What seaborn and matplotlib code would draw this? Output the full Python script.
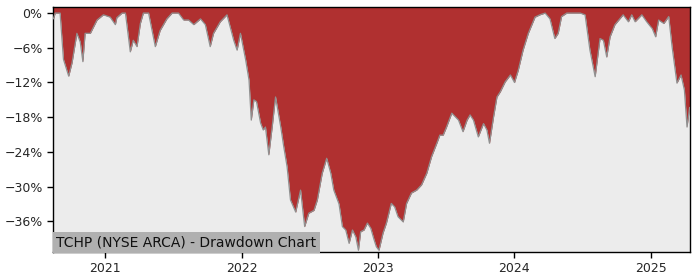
import matplotlib
matplotlib.use("Agg")
import matplotlib.pyplot as plt
import matplotlib.dates as mdates
from matplotlib.ticker import FuncFormatter
import seaborn as sns
import pandas as pd

dates = [
    "2020-08-15", "2020-08-20", "2020-09-02", "2020-09-11", "2020-09-25", "2020-10-04",
    "2020-10-17", "2020-10-26", "2020-11-02", "2020-11-08", "2020-11-22", "2020-12-10",
    "2020-12-27", "2021-01-14", "2021-01-28", "2021-02-01", "2021-02-15", "2021-02-24",
    "2021-03-09", "2021-03-17", "2021-03-27", "2021-04-05", "2021-04-13", "2021-04-27",
    "2021-05-15", "2021-05-28", "2021-06-15", "2021-06-29", "2021-07-16", "2021-07-30",
    "2021-08-12", "2021-08-26", "2021-09-13", "2021-09-26", "2021-10-09", "2021-10-18",
    "2021-11-05", "2021-11-23", "2021-12-11", "2021-12-20", "2021-12-29",
    "2022-01-07", "2022-01-12", "2022-01-21", "2022-01-27", "2022-02-03", "2022-02-10",
    "2022-02-21", "2022-02-28", "2022-03-06", "2022-03-15", "2022-03-24", "2022-04-02",
    "2022-04-16", "2022-04-24", "2022-05-03", "2022-05-12", "2022-05-26", "2022-06-08",
    "2022-06-19", "2022-06-30", "2022-07-14", "2022-07-23", "2022-08-05", "2022-08-17",
    "2022-08-28", "2022-09-05", "2022-09-19", "2022-09-28", "2022-10-07", "2022-10-16",
    "2022-10-25", "2022-11-03", "2022-11-10", "2022-11-16", "2022-11-25", "2022-12-04",
    "2022-12-13", "2022-12-22", "2022-12-28", "2023-01-04", "2023-01-15", "2023-01-24",
    "2023-02-06", "2023-02-15", "2023-02-24", "2023-03-10", "2023-03-19", "2023-04-01",
    "2023-04-15", "2023-04-28", "2023-05-12", "2023-05-25", "2023-06-08", "2023-06-16",
    "2023-06-25", "2023-07-04", "2023-07-18", "2023-07-27", "2023-08-05", "2023-08-17",
    "2023-08-28", "2023-09-05", "2023-09-14", "2023-09-27", "2023-10-11", "2023-10-20",
    "2023-10-27", "2023-11-07", "2023-11-16", "2023-11-25", "2023-12-08", "2023-12-22",
    "2024-01-02", "2024-01-12", "2024-01-25", "2024-02-08", "2024-02-17",
    "2024-02-26", "2024-03-10", "2024-03-24", "2024-04-06", "2024-04-19",
    "2024-04-28", "2024-05-07", "2024-05-21", "2024-06-08", "2024-06-26", "2024-07-09",
    "2024-07-22", "2024-08-05", "2024-08-18", "2024-08-27", "2024-09-05", "2024-09-14",
    "2024-09-27", "2024-10-10", "2024-10-19", "2024-11-02", "2024-11-11", "2024-11-20",
    "2024-12-08", "2024-12-21", "2025-01-05", "2025-01-14", "2025-01-22", "2025-02-05",
    "2025-02-18", "2025-02-27", "2025-03-12", "2025-03-23", "2025-04-01", "2025-04-08",
    "2025-04-15",
]
drawdown = [
    -1.0, 0.0, 0.0, -8.0, -10.9, -8.6,
    -3.5, -5.0, -8.4, -3.5, -3.5, -1.2,
    -0.3, -0.7, -2.0, -0.8, 0.0, 0.0,
    -6.7, -4.7, -5.8, -1.8, 0.0, 0.0,
    -5.8, -3.0, -1.0, 0.0, 0.0, -1.2,
    -1.2, -2.0, -1.0, -2.0, -5.8, -3.5,
    -1.5, -0.3, -4.7, -6.4, -3.5,
    -6.5, -8.1, -11.6, -18.5, -15.0, -15.3,
    -19.0, -20.2, -19.7, -24.5, -19.7, -14.5,
    -19.7, -23.1, -26.6, -32.3, -34.4, -30.6,
    -36.9, -34.6, -34.1, -32.3, -27.7, -25.1,
    -27.7, -30.6, -33.0, -36.9, -37.5, -39.8,
    -37.5, -38.7, -41.0, -37.8, -37.5, -36.3,
    -37.2, -39.2, -40.4, -41.0, -38.0, -36.3,
    -32.9, -33.5, -35.2, -36.1, -32.9, -31.1,
    -30.6, -29.7, -27.7, -24.8, -22.5, -21.1,
    -21.1, -19.7, -17.3, -17.9, -18.5, -20.5,
    -18.5, -17.6, -18.5, -21.4, -19.1, -20.2,
    -22.5, -17.9, -14.5, -13.6, -11.9, -10.7,
    -12.0, -9.9, -6.4, -3.5, -2.1,
    -0.7, -0.3, 0.0, -1.0, -4.4,
    -3.5, -0.6, 0.0, 0.0, 0.0, -0.3,
    -6.4, -11.0, -4.4, -4.7, -7.6, -4.1,
    -2.0, -1.0, -0.3, -1.5, -0.3, -1.5,
    -0.3, -1.5, -2.7, -4.1, -1.2, -1.8,
    -0.6, -5.8, -12.1, -10.7, -13.3, -19.7,
    -16.3,
]
y_ticks = [0, -6, -12, -18, -24, -30, -36]
x_tick_years = [2021, 2022, 2023, 2024, 2025]
title_text = "TCHP (NYSE ARCA) - Drawdown Chart"

df = pd.DataFrame({"date": pd.to_datetime(dates), "dd": drawdown})

sns.set_style("white")
plt.rcParams["font.family"] = ["DejaVu Sans"]

fig = plt.figure(figsize=(7, 2.8), dpi=100)
ax = fig.add_axes([53 / 700, 28 / 280, 637 / 700, 245 / 280])
ax.set_facecolor("#ececec")

ytop = 1.05
ybot = -41.3
ax.fill_between(df["date"], df["dd"], ytop, color="#b03030", linewidth=0, zorder=2)
sns.lineplot(data=df, x="date", y="dd", ax=ax, color="#909090", linewidth=0.9, zorder=3)

ax.set_xlim(pd.Timestamp("2020-08-14"), pd.Timestamp("2025-04-16"))
ax.set_ylim(ybot, ytop)
ax.set_yticks(y_ticks)
ax.yaxis.set_major_formatter(FuncFormatter(lambda v, p: f"{v:.0f}%".replace("-", "\u2212")))
ax.set_xticks([pd.Timestamp(f"{y}-01-01") for y in x_tick_years])
ax.xaxis.set_major_formatter(mdates.DateFormatter("%Y"))
ax.set_xlabel("")
ax.set_ylabel("")
ax.tick_params(axis="both", labelsize=9, length=4, width=1, color="black", direction="out",
               bottom=True, left=True)
for s in ax.spines.values():
    s.set_color("black")
    s.set_linewidth(1)
    s.set_visible(True)
ax.grid(False)

ax.text(0.005, 0.012, title_text, transform=ax.transAxes, fontsize=10, color="#111111",
        ha="left", va="bottom", zorder=5,
        bbox=dict(facecolor="#b0b0b0", edgecolor="none", boxstyle="square,pad=0.25"))

fig.savefig("out.png", dpi=100)
